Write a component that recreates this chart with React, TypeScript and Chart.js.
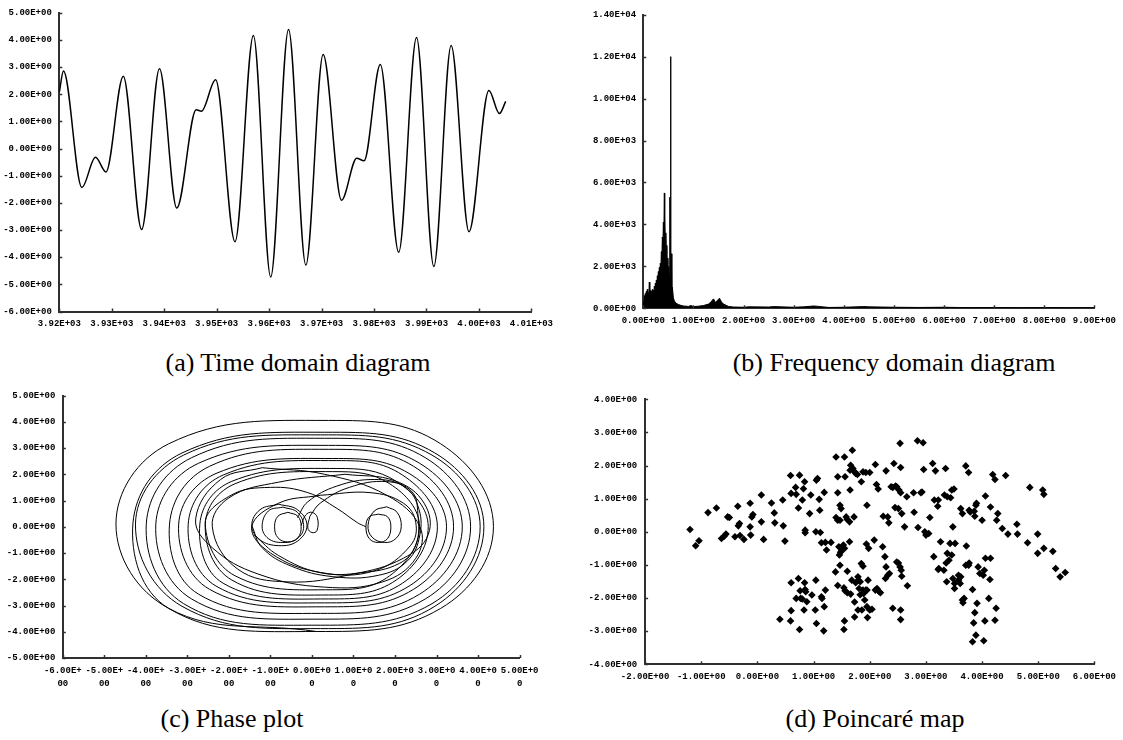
import React, { useEffect, useRef } from "react";
import { Chart, registerables } from "chart.js";

Chart.register(...registerables);

// ---------------- (a) Time domain diagram ----------------
const timeT = [3920.0, 3920.8, 3924.3, 3926.9, 3928.9, 3932.2, 3935.7, 3939.1, 3942.4, 3946.1, 3947.1, 3949.8, 3953.5, 3957.0, 3960.3, 3963.7, 3967.0, 3970.3, 3973.8, 3976.7, 3978.1, 3981.2, 3984.7, 3988.1, 3991.4, 3994.7, 3998.1, 4001.9, 4003.9, 4005.1];
const timeV = [2.08, 2.86, -1.43, -0.32, -0.86, 2.67, -2.98, 2.94, -2.19, 1.43, 1.38, 2.54, -3.43, 4.17, -4.73, 4.39, -4.29, 3.47, -1.9, -0.35, -0.45, 3.1, -3.82, 4.09, -4.34, 3.8, -3.06, 2.14, 1.29, 1.74];
const timeXTicks = ["3.92E+03", "3.93E+03", "3.94E+03", "3.95E+03", "3.96E+03", "3.97E+03", "3.98E+03", "3.99E+03", "4.00E+03", "4.01E+03"];
const timeYTicks = ["-6.00E+00", "-5.00E+00", "-4.00E+00", "-3.00E+00", "-2.00E+00", "-1.00E+00", "0.00E+00", "1.00E+00", "2.00E+00", "3.00E+00", "4.00E+00", "5.00E+00"];

// ---------------- (b) Frequency domain diagram ----------------
const freqF = [0.0, 0.01, 0.02, 0.03, 0.04, 0.05, 0.06, 0.07, 0.08, 0.09, 0.1, 0.11, 0.12, 0.13, 0.14, 0.15, 0.16, 0.17, 0.18, 0.19, 0.2, 0.21, 0.22, 0.23, 0.24, 0.25, 0.26, 0.27, 0.28, 0.29, 0.3, 0.31, 0.32, 0.33, 0.34, 0.35, 0.36, 0.37, 0.38, 0.39, 0.4, 0.41, 0.42, 0.425, 0.43, 0.44, 0.45, 0.46, 0.47, 0.48, 0.49, 0.5, 0.51, 0.52, 0.53, 0.535, 0.545, 0.55, 0.56, 0.57, 0.58, 0.6, 0.62, 0.65, 0.7, 0.75, 0.8, 0.9, 0.95, 1.0, 1.1, 1.2, 1.3, 1.35, 1.4, 1.44, 1.48, 1.52, 1.56, 1.6, 1.7, 1.8, 2.0, 2.1, 2.5, 2.6, 3.0, 3.2, 3.4, 3.5, 3.7, 4.0, 4.4, 4.5, 5.0, 5.5, 6.0, 6.5, 7.0, 7.5, 8.0, 8.5, 9.0];
const freqA = [350, 150, 600, 250, 700, 300, 800, 400, 900, 450, 750, 500, 1250, 400, 850, 350, 800, 450, 900, 550, 850, 650, 1050, 750, 1200, 950, 1350, 1050, 1550, 1250, 1750, 1450, 1950, 1650, 2150, 1850, 2700, 2300, 3400, 2900, 4100, 3500, 5500, 3200, 4300, 2800, 3600, 2600, 3000, 2100, 2400, 1800, 2000, 1500, 5300, 1400, 12000, 900, 2600, 700, 1000, 500, 350, 250, 180, 140, 110, 90, 130, 80, 100, 130, 200, 300, 450, 280, 380, 480, 300, 200, 90, 60, 50, 70, 60, 80, 50, 70, 110, 90, 40, 50, 80, 70, 50, 40, 50, 30, 40, 25, 35, 25, 30];
const freqXTicks = ["0.00E+00", "1.00E+00", "2.00E+00", "3.00E+00", "4.00E+00", "5.00E+00", "6.00E+00", "7.00E+00", "8.00E+00", "9.00E+00"];
const freqYTicks = ["0.00E+00", "2.00E+03", "4.00E+03", "6.00E+03", "8.00E+03", "1.00E+04", "1.20E+04", "1.40E+04"];

// ---------------- (c) Phase plot ----------------
const phaseSpiral = [
  [0.1, -3.99], [-3.45, -3.11],
  [-4.72, 0.1], [-3.45, 3.16], [0.4, 4.05], [3.1, 3.16], [4.37, 0.0], [3.1, -3.11], [0.1, -3.99], [-3.45, -3.11],
  [-4.31, 0.15], [-3.13, 2.81], [0.3, 3.6], [2.96, 2.81], [4.14, 0.0], [2.96, -3.03], [0.2, -3.88], [-3.13, -3.03],
  [-4.25, 0.1], [-3.09, 2.73], [0.2, 3.5], [2.89, 2.73], [4.05, 0.0], [2.89, -2.93], [0.0, -3.75], [-3.09, -2.93],
  [-3.99, 0.1], [-2.9, 2.63], [0.3, 3.37], [2.73, 2.63], [3.82, 0.0], [2.73, -2.75], [0.1, -3.52], [-2.9, -2.75],
  [-3.76, 0.1], [-2.73, 2.42], [0.4, 3.1], [2.59, 2.42], [3.62, 0.0], [2.59, -2.57], [0.2, -3.3], [-2.73, -2.57],
  [-3.43, 0.1], [-2.47, 2.3], [0.4, 2.95], [2.45, 2.3], [3.41, 0.0], [2.45, -2.38], [0.3, -3.05], [-2.47, -2.38],
  [-3.21, 0.1], [-2.31, 2.03], [0.5, 2.6], [2.34, 2.03], [3.24, 0.0], [2.34, -2.26], [0.3, -2.9], [-2.31, -2.26],
  [-2.98, 0.1], [-2.14, 1.97], [0.6, 2.52], [2.18, 1.97], [3.02, 0.0], [2.18, -2.15], [0.4, -2.75], [-2.14, -2.15],
  [-2.7, 0.1], [-1.93, 1.73], [0.6, 2.22], [2.03, 1.73], [2.8, 0.0], [2.03, -2.03], [0.4, -2.6], [-1.93, -2.03],
  [-2.57, 0.1], [-1.85, 1.64], [0.5, 2.1], [1.87, 1.64], [2.59, 0.0], [1.87, -1.87], [0.5, -2.4], [-1.85, -1.87],
  [-2.57, 0.1], [-1.95, 1.2], [-1.0, 1.5], [-0.1, 1.3], [0.6, 0.7], [1.1, 0.15], [1.3, 0.0],
];
const phaseTilt1 = [[-1.2, 2.25], [0.3, 2.0], [1.8, 1.2], [2.6, 0.0], [2.5, -1.2], [1.7, -2.1], [0.3, -2.3], [-1.3, -1.8], [-2.4, -0.8], [-2.8, 0.3], [-2.2, 1.8], [-1.2, 2.25]];
const phaseTilt2 = [[0.8, 2.0], [2.0, 1.75], [2.7, 0.9], [2.8, -0.3], [2.2, -1.2], [1.0, -1.8], [-0.6, -2.1], [-1.8, -1.6], [-2.4, 0.0], [-2.0, 1.1], [-0.8, 1.7], [0.8, 2.0]];
const phaseBowl = [[0.2, 1.2], [1.4, 1.3], [2.2, 0.9], [2.5, 0.16], [2.37, -0.72], [1.5, -1.68], [0.2, -1.74], [-1.0, -1.0], [-1.45, 0.0], [-0.8, 0.9], [0.2, 1.2]];
const phaseArc1 = [[-0.35, 0.35], [-0.1, 0.95], [0.6, 1.55], [1.5, 1.8], [2.2, 1.55], [2.55, 0.8], [2.6, -0.3], [2.3, -1.3], [1.6, -1.85], [0.5, -1.9], [-0.5, -1.5], [-1.2, -0.8], [-1.45, 0.05]];
const phaseArc2 = [[-0.05, 0.4], [0.2, 0.9], [0.9, 1.5], [1.8, 1.72], [2.4, 1.35], [2.55, 0.5], [2.5, -0.7], [2.1, -1.4], [1.2, -1.75], [0.2, -1.75], [-0.8, -1.1], [-1.4, -0.3]];
const phaseTear = [[-0.26, 0.05], [-0.15, 0.45], [0.0, 0.55], [0.13, 0.35], [0.12, -0.15], [0.0, -0.22], [-0.1, -0.05], [-0.05, 0.4]];
const phaseLoopA = [[-0.58, 0.55], [-0.34, 0.4], [-0.26, 0], [-0.34, -0.42], [-0.58, -0.58], [-0.82, -0.42], [-0.9, 0], [-0.82, 0.4], [-0.58, 0.55]];
const phaseLoopB = [[-0.8, 0.86], [-0.35, 0.65], [-0.12, 0.05], [-0.35, -0.55], [-0.8, -0.72], [-1.25, -0.5], [-1.45, 0.05], [-1.25, 0.65], [-0.8, 0.86]];
const phaseLoopC = [[-0.7, 0.75], [-0.35, 0.55], [-0.2, 0], [-0.35, -0.45], [-0.7, -0.6], [-1.05, -0.45], [-1.2, 0], [-1.05, 0.6], [-0.7, 0.75]];
const phaseLoopE = [[1.6, 0.48], [1.82, 0.38], [1.9, 0], [1.82, -0.45], [1.6, -0.6], [1.38, -0.45], [1.3, 0], [1.38, 0.38], [1.6, 0.48]];
const phaseLoopF = [[1.8, 0.76], [2.05, 0.55], [2.15, 0], [2.02, -0.45], [1.75, -0.6], [1.45, -0.4], [1.35, 0.05], [1.5, 0.6], [1.8, 0.76]];
const phaseXTicks = ["-6.00E+00", "-5.00E+00", "-4.00E+00", "-3.00E+00", "-2.00E+00", "-1.00E+00", "0.00E+00", "1.00E+00", "2.00E+00", "3.00E+00", "4.00E+00", "5.00E+00"];
const phaseYTicks = ["-5.00E+00", "-4.00E+00", "-3.00E+00", "-2.00E+00", "-1.00E+00", "0.00E+00", "1.00E+00", "2.00E+00", "3.00E+00", "4.00E+00", "5.00E+00"];

// ---------------- (d) Poincaré map ----------------
const poincarePoints = [
  [-1.2, 0.07], [-1.1, -0.42], [-1.04, -0.27], [-0.88, 0.58], [-0.73, 0.72], [-0.64, -0.2], [-0.59, -0.13], [-0.56, -0.07], [-0.53, 0.45], [-0.5, 0.43],
  [-0.4, -0.15], [-0.35, 0.77], [-0.34, 0.18], [-0.32, 0.25], [-0.31, -0.11], [-0.24, -0.23], [-0.13, 0.86], [-0.13, 0.15], [-0.12, -0.1], [-0.1, 0.45],
  [-0.08, 0.52], [0.07, 1.11], [0.07, 0.3], [0.11, -0.23], [0.25, 0.87], [0.3, 0.57], [0.31, 0.27], [0.45, 0.96], [0.46, 0.18], [0.49, -0.28],
  [0.59, 1.7], [0.6, 1.16], [0.68, 1.34], [0.69, 1.13], [0.73, 0.72], [0.75, 1.71], [0.8, 0.96], [0.82, 1.3], [0.84, 1.51], [0.85, 0.05],
  [0.85, -0.03], [0.93, 0.55], [0.95, 1.11], [1.04, 0.0], [1.05, 1.56], [1.07, 1.61], [1.1, 0.98], [1.11, 0.65], [1.12, -0.02], [1.19, 1.19],
  [1.14, -0.33], [1.23, -0.55], [1.21, -0.32], [1.31, -0.32],
  [1.4, 2.26], [1.43, 1.18], [1.43, 1.66], [1.47, 0.8], [1.49, 0.7], [1.4, 0.43], [1.43, 0.35], [1.47, 0.35], [1.55, 2.26], [1.56, 1.66],
  [1.58, 0.45], [1.6, 0.37], [1.64, 0.3], [1.65, 1.26], [1.65, 1.86], [1.66, 2.01], [1.69, 2.46], [1.7, 1.91], [1.72, 0.45], [1.73, 1.81],
  [1.75, 1.76], [1.78, 1.73], [1.85, 1.51], [1.88, 1.81], [1.93, 1.79], [1.95, 0.8], [2.0, 1.79], [2.1, 2.03],
  [2.12, 1.43], [2.15, 1.29], [2.24, 0.47], [2.29, 1.84], [2.32, 0.45], [2.34, 0.27], [2.38, 1.36], [2.41, 1.34], [2.43, 2.06], [2.45, 0.73],
  [2.46, 1.38], [2.48, 1.36], [2.51, 0.7], [2.52, 1.26], [2.54, 2.67], [2.55, 1.18], [2.55, 1.94], [2.57, 0.55], [2.62, 0.15], [2.66, 1.06],
  [2.78, 1.18], [2.79, 0.59],
  [2.85, 2.75], [2.86, 0.13], [2.91, 1.18], [2.93, 1.2], [2.95, 2.69], [2.96, 1.88], [2.98, 0.0], [3.0, -0.1], [3.05, -0.05], [3.07, 0.43],
  [3.12, 2.06], [3.15, 0.96], [3.17, 1.84], [3.21, 0.77], [3.22, 0.96], [3.35, 1.91], [3.33, 1.11], [3.38, 1.06], [3.44, 1.03], [3.46, 1.26],
  [3.48, 0.15], [3.5, 1.29],
  [3.62, 0.7], [3.65, 0.55], [3.71, 1.99], [3.76, 1.79], [3.77, 0.65], [3.79, 0.6], [3.86, 0.62], [3.87, 0.47], [3.9, 0.86], [3.89, 0.8],
  [4.0, 0.35], [4.06, 1.08], [4.15, 0.75], [4.19, 1.73], [4.23, 1.58], [4.26, 0.35], [4.28, 0.55], [4.36, 0.1], [4.42, 1.7], [4.46, -0.07],
  [4.62, 0.23], [4.63, -0.07], [4.81, -0.33], [4.85, 1.34], [4.99, -0.07], [4.99, -0.65], [5.08, 1.26], [5.1, -0.5], [5.1, 1.13], [5.26, -0.59],
  [5.31, -1.11], [5.39, -1.36], [5.48, -1.23],
  [0.6, -1.54], [0.73, -1.41], [0.84, -1.54], [0.85, -1.74], [0.76, -1.78], [0.69, -2.01], [0.77, -2.01], [0.86, -1.81], [0.8, -2.03], [0.88, -2.11],
  [0.97, -1.91], [1.04, -1.46], [1.03, -2.36], [0.83, -2.36], [0.6, -2.38], [0.59, -2.69], [0.4, -2.64], [0.75, -2.95], [1.05, -2.77], [1.18, -2.99],
  [1.14, -1.96], [1.15, -2.01], [1.19, -2.26], [1.21, -1.76],
  [1.39, -1.21], [1.47, -1.01], [1.43, -1.62], [1.54, -1.69], [1.6, -1.19], [1.56, -1.78], [1.6, -1.84], [1.66, -1.88], [1.68, -1.46], [1.75, -1.54],
  [1.73, -2.12], [1.79, -1.36], [1.8, -1.46], [1.81, -1.71], [1.85, -0.96], [1.88, -1.04], [1.89, -1.86], [1.91, -2.06], [1.86, -2.36], [1.79, -2.36],
  [1.73, -2.57], [1.55, -2.69], [1.54, -2.95], [1.83, -1.9], [1.83, -1.51], [1.88, -1.76], [1.93, -1.76], [1.95, -1.76], [1.97, -1.46], [1.95, -2.26],
  [2.0, -2.36], [2.04, -2.34], [1.96, -2.59], [2.1, -1.76], [2.13, -1.71], [2.17, -1.81], [2.19, -1.84], [1.94, -0.37], [1.98, -0.5], [2.08, -0.25],
  [1.45, -0.45], [1.5, -0.55], [1.53, -0.4], [1.48, -0.62], [1.55, -0.5], [1.64, -0.3], [1.46, -0.7],
  [2.23, -0.45], [2.27, -0.75], [2.29, -1.06], [2.28, -1.41], [2.32, -1.31], [2.35, -1.26], [2.41, -2.31], [2.48, -0.91], [2.51, -0.94], [2.54, -1.06],
  [2.56, -1.16], [2.57, -1.34], [2.55, -2.36], [2.55, -2.65], [2.67, -1.63],
  [3.14, -0.75], [3.26, -0.3], [3.23, -1.11], [3.32, -1.16], [3.37, -1.51], [3.36, -0.94], [3.38, -0.65], [3.41, -0.86], [3.43, -0.35], [3.46, -0.7],
  [3.48, -1.41], [3.52, -0.35], [3.58, -1.31], [3.58, -1.46], [3.61, -1.56], [3.51, -1.56], [3.51, -1.71], [3.62, -1.36], [3.65, -2.06], [3.66, -2.14],
  [3.68, -2.01], [3.71, -1.01], [3.77, -0.94], [3.76, -1.01], [3.83, -1.74], [3.85, -2.75], [3.83, -3.32], [3.87, -2.44], [3.89, -3.12], [3.91, -2.16],
  [3.93, -1.06], [3.96, -1.26], [4.02, -1.31], [4.04, -1.16], [4.06, -0.8], [4.14, -1.44], [4.12, -2.01], [4.15, -0.8], [4.23, -2.67], [4.25, -2.31],
  [4.05, -2.69], [4.03, -3.29], [3.72, -0.43], [3.22, -1.14],
];
const poincareXTicks = ["-2.00E+00", "-1.00E+00", "0.00E+00", "1.00E+00", "2.00E+00", "3.00E+00", "4.00E+00", "5.00E+00", "6.00E+00"];
const poincareYTicks = ["-4.00E+00", "-3.00E+00", "-2.00E+00", "-1.00E+00", "0.00E+00", "1.00E+00", "2.00E+00", "3.00E+00", "4.00E+00"];

// ---------------- helpers ----------------
const AXIS_COLOR = "#303030";
const TICK_FONT = { family: '"Liberation Mono", "DejaVu Sans Mono", monospace', size: 9, weight: "bold" as const };

const innerTicks = {
  id: "innerTicks",
  afterDraw(chart: any) {
    const ctx = chart.ctx;
    const xs = chart.scales.x;
    const ys = chart.scales.y;
    ctx.save();
    ctx.strokeStyle = AXIS_COLOR;
    ctx.lineWidth = 1.5;
    xs.ticks.forEach((_t: any, i: number) => {
      const px = Math.round(xs.getPixelForTick(i)) + 0.5;
      ctx.beginPath();
      ctx.moveTo(px, xs.top);
      ctx.lineTo(px, xs.top - 3);
      ctx.stroke();
    });
    ys.ticks.forEach((_t: any, i: number) => {
      const py = Math.round(ys.getPixelForTick(i)) + 0.5;
      ctx.beginPath();
      ctx.moveTo(ys.right, py);
      ctx.lineTo(ys.right + 3, py);
      ctx.stroke();
    });
    ctx.restore();
  },
};

function axis(min: number, max: number, step: number, labels: string[], size: number, isX: boolean, padding: number, split = false) {
  return {
    type: "linear" as const,
    min,
    max,
    ticks: {
      stepSize: step,
      autoSkip: false,
      maxRotation: 0,
      minRotation: 0,
      padding,
      color: "#000",
      font: split ? { ...TICK_FONT, lineHeight: 1.45 } : TICK_FONT,
      callback: (_v: any, i: number) => {
        const s = labels[i] ?? "";
        return split ? [s.slice(0, 7), s.slice(7)] : s;
      },
    },
    grid: { display: false, drawTicks: false },
    border: { display: true, color: AXIS_COLOR, width: 2 },
    afterFit: (s: any) => {
      if (isX) s.height = size;
      else s.width = size;
    },
  };
}

function baseOptions(padding: any, scales: any) {
  return {
    responsive: false,
    animation: false as const,
    devicePixelRatio: 1,
    layout: { padding },
    plugins: { legend: { display: false }, tooltip: { enabled: false } },
    events: [] as any[],
    scales,
  };
}

const pairs = (arr: number[][]) => arr.map((p) => ({ x: p[0], y: p[1] }));

type Panel = { left: number; top: number; width: number; height: number; make: () => any };

const panels: Panel[] = [
  {
    left: 0, top: 0, width: 560, height: 340,
    make: () => ({
      type: "line",
      data: {
        datasets: [{
          data: timeT.map((t, i) => ({ x: t, y: timeV[i] })),
          borderColor: "#000", borderWidth: 1.5, pointRadius: 0, fill: false,
          cubicInterpolationMode: "monotone",
        }],
      },
      options: baseOptions({ left: 0, top: 10.5, right: 22.5, bottom: 0 }, {
        x: axis(3920, 4010, 10, timeXTicks, 28.5, true, 7),
        y: axis(-6, 5, 1, timeYTicks, 59.3, false, 7.5),
      }),
      plugins: [innerTicks],
    }),
  },
  {
    left: 560, top: 0, width: 563, height: 338,
    make: () => ({
      type: "line",
      data: {
        datasets: [{
          data: freqF.map((f, i) => ({ x: f, y: freqA[i] })),
          borderColor: "#000", backgroundColor: "#000", borderWidth: 1, pointRadius: 0,
          fill: "origin", tension: 0,
        }],
      },
      options: baseOptions({ left: 0, top: 14.7, right: 22.6, bottom: 0 }, {
        x: axis(0, 9, 1, freqXTicks, 29.7, true, 7),
        y: axis(0, 14000, 2000, freqYTicks, 83.3, false, 7.2),
      }),
      plugins: [innerTicks],
    }),
  },
  {
    left: 0, top: 380, width: 560, height: 312,
    make: () => {
      const curves = [phaseSpiral, phaseTilt1, phaseTilt2, phaseBowl, phaseArc1, phaseArc2, phaseTear, phaseLoopA, phaseLoopB, phaseLoopC, phaseLoopE, phaseLoopF];
      return {
        type: "scatter",
        data: {
          datasets: curves.map((c) => ({
            data: pairs(c), showLine: true, borderColor: "#000", borderWidth: 1,
            pointRadius: 0, fill: false, tension: 0.4,
          })),
        },
        options: baseOptions({ left: 0, top: 15.5, right: 40.4, bottom: 0 }, {
          x: axis(-6, 5, 1, phaseXTicks, 34, true, 6, true),
          y: axis(-5, 5, 1, phaseYTicks, 62.8, false, 7.4),
        }),
        plugins: [innerTicks],
      };
    },
  },
  {
    left: 560, top: 380, width: 563, height: 315,
    make: () => ({
      type: "scatter",
      data: {
        datasets: [{
          data: pairs(poincarePoints), pointStyle: "rectRot", pointRadius: 3.8,
          backgroundColor: "#000", borderColor: "#000", borderWidth: 0,
        }],
      },
      options: baseOptions({ left: 0, top: 19.3, right: 23.7, bottom: 0 }, {
        x: axis(-2, 6, 1, poincareXTicks, 30.7, true, 7),
        y: axis(-4, 4, 1, poincareYTicks, 85.1, false, 7.9),
      }),
      plugins: [innerTicks],
    }),
  },
];

const captions = [
  { text: "(a) Time domain diagram", cx: 298, top: 350 },
  { text: "(b) Frequency domain diagram", cx: 894, top: 350 },
  { text: "(c) Phase plot", cx: 232, top: 706 },
  { text: "(d) Poincaré map", cx: 875, top: 706 },
];

export default function App() {
  const refs = useRef<(HTMLCanvasElement | null)[]>([]);

  useEffect(() => {
    const charts = panels.map((p, i) => {
      const cv = refs.current[i]!;
      return new Chart(cv, p.make());
    });
    return () => charts.forEach((c) => c.destroy());
  }, []);

  return (
    <div style={{ position: "absolute", left: 0, top: 0, width: 1123, height: 740, background: "#fff", overflow: "hidden" }}>
      {panels.map((p, i) => (
        <canvas
          key={i}
          ref={(el) => { refs.current[i] = el; }}
          width={p.width}
          height={p.height}
          style={{ position: "absolute", left: p.left, top: p.top, width: p.width, height: p.height }}
        />
      ))}
      {captions.map((c, i) => (
        <div
          key={"c" + i}
          style={{
            position: "absolute", left: c.cx - 250, top: c.top, width: 500, textAlign: "center",
            fontFamily: '"Liberation Serif", "Times New Roman", serif', fontSize: 26, lineHeight: "26px",
            color: "#000", whiteSpace: "nowrap",
          }}
        >
          {c.text}
        </div>
      ))}
    </div>
  );
}
